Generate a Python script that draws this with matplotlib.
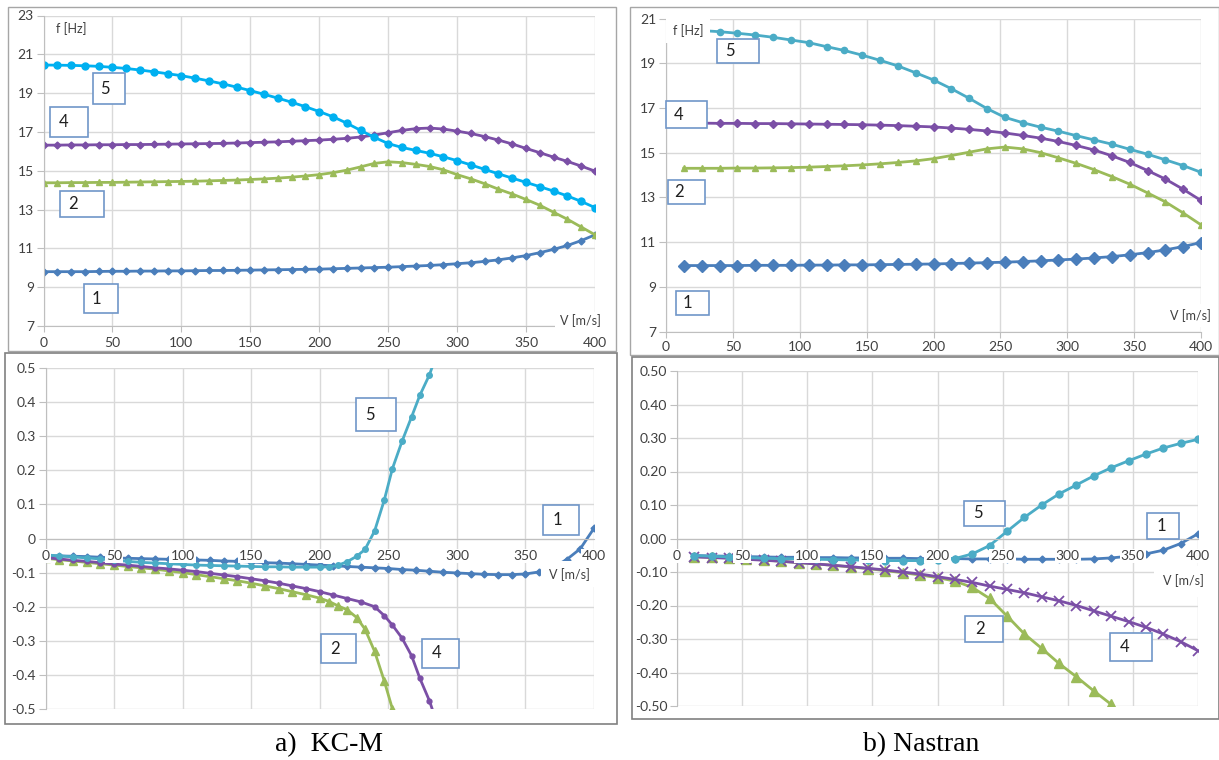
import matplotlib
matplotlib.use('Agg')
import matplotlib.pyplot as plt
from matplotlib.patches import Rectangle
from matplotlib.ticker import FuncFormatter

plt.rcParams['font.family'] = ['Lato', 'DejaVu Sans']
plt.rcParams['axes.unicode_minus'] = False

# ---------------- data ----------------
# speeds (m/s)
V_KCM = list(range(0, 401, 10))
V_NAS = [13.3, 26.7, 40.0, 53.3, 66.7, 80.0, 93.3, 106.7, 120.0, 133.3,
         146.7, 160.0, 173.3, 186.7, 200.0, 213.3, 226.7, 240.0, 253.3, 266.7,
         280.0, 293.3, 306.7, 320.0, 333.3, 346.7, 360.0, 373.3, 386.7, 400.0]

# a) KC-M, frequency f [Hz]
f1_kcm = [9.80, 9.80, 9.80, 9.80, 9.81, 9.82, 9.82, 9.83, 9.83, 9.84, 9.84,
          9.85, 9.86, 9.86, 9.87, 9.88, 9.89, 9.90, 9.91, 9.92, 9.93, 9.95,
          9.97, 9.99, 10.01, 10.03, 10.06, 10.09, 10.12, 10.16, 10.21, 10.26,
          10.33, 10.41, 10.51, 10.63, 10.78, 10.95, 11.15, 11.40, 11.70]
f2_kcm = [14.38, 14.38, 14.39, 14.39, 14.40, 14.40, 14.41, 14.42, 14.43, 14.44,
          14.45, 14.46, 14.48, 14.50, 14.52, 14.55, 14.58, 14.62, 14.67, 14.73,
          14.80, 14.90, 15.03, 15.20, 15.38, 15.46, 15.42, 15.33, 15.22, 15.05,
          14.80, 14.58, 14.33, 14.05, 13.80, 13.52, 13.22, 12.86, 12.50, 12.10,
          11.70]
f4_kcm = [16.32, 16.32, 16.33, 16.33, 16.34, 16.34, 16.35, 16.35, 16.36, 16.37,
          16.38, 16.39, 16.40, 16.41, 16.43, 16.45, 16.47, 16.49, 16.52, 16.55,
          16.58, 16.62, 16.67, 16.74, 16.84, 16.96, 17.08, 17.17, 17.20, 17.15,
          17.04, 16.92, 16.76, 16.58, 16.38, 16.15, 15.93, 15.70, 15.48, 15.24,
          14.98]
f5_kcm = [20.45, 20.44, 20.43, 20.41, 20.38, 20.33, 20.27, 20.19, 20.10, 20.00,
          19.90, 19.77, 19.63, 19.48, 19.31, 19.13, 18.94, 18.74, 18.53, 18.30,
          18.05, 17.78, 17.45, 17.08, 16.72, 16.40, 16.20, 16.05, 15.90, 15.72,
          15.52, 15.30, 15.07, 14.84, 14.62, 14.40, 14.18, 13.95, 13.70, 13.42,
          13.10]

# b) Nastran, frequency f [Hz]
f1_nas = [9.95, 9.95, 9.95, 9.95, 9.96, 9.96, 9.96, 9.97, 9.97, 9.98, 9.98,
          9.99, 10.00, 10.01, 10.02, 10.04, 10.06, 10.08, 10.10, 10.13, 10.16,
          10.20, 10.24, 10.29, 10.35, 10.43, 10.53, 10.65, 10.80, 10.98]
f2_nas = [14.30, 14.30, 14.30, 14.31, 14.31, 14.32, 14.33, 14.35, 14.38, 14.41,
          14.45, 14.50, 14.56, 14.63, 14.73, 14.87, 15.02, 15.17, 15.25, 15.17,
          15.00, 14.77, 14.52, 14.24, 13.93, 13.59, 13.20, 12.80, 12.30, 11.77]
f4_nas = [16.32, 16.32, 16.31, 16.31, 16.30, 16.30, 16.29, 16.28, 16.27, 16.26,
          16.25, 16.23, 16.21, 16.18, 16.15, 16.10, 16.04, 15.97, 15.88, 15.77,
          15.65, 15.50, 15.32, 15.12, 14.86, 14.56, 14.20, 13.82, 13.36, 12.86]
f5_nas = [20.50, 20.46, 20.41, 20.34, 20.26, 20.16, 20.04, 19.92, 19.74, 19.57,
          19.36, 19.13, 18.88, 18.57, 18.25, 17.86, 17.43, 16.97, 16.58, 16.34,
          16.14, 15.96, 15.76, 15.57, 15.38, 15.15, 14.93, 14.68, 14.42, 14.12]

# a) KC-M, damping
g1_kcm = [-0.050, -0.051, -0.052, -0.053, -0.055, -0.057, -0.058, -0.059, -0.060,
          -0.061, -0.062, -0.063, -0.064, -0.066, -0.067, -0.069, -0.071, -0.072,
          -0.074, -0.076, -0.078, -0.080, -0.082, -0.084, -0.086, -0.088, -0.091,
          -0.093, -0.096, -0.099, -0.101, -0.103, -0.105, -0.106, -0.106, -0.104,
          -0.098, -0.085, -0.062, -0.030, 0.030]
v2_kcm_d = list(range(0, 201, 10)) + [207, 213, 220, 227, 233, 240, 247, 253, 260]
g2_kcm = [-0.058, -0.062, -0.066, -0.070, -0.074, -0.078, -0.082, -0.086, -0.090,
          -0.095, -0.100, -0.106, -0.112, -0.118, -0.124, -0.131, -0.139, -0.147,
          -0.156, -0.165, -0.175, -0.185, -0.197, -0.209, -0.232, -0.266, -0.331,
          -0.417, -0.500, -0.600]
v4_kcm_d = list(range(0, 241, 10)) + [247, 253, 260, 267, 273, 280, 287]
g4_kcm = [-0.056, -0.060, -0.064, -0.067, -0.071, -0.075, -0.078, -0.082, -0.086,
          -0.089, -0.093, -0.097, -0.102, -0.107, -0.112, -0.118, -0.124, -0.131,
          -0.139, -0.147, -0.156, -0.166, -0.176, -0.186, -0.200, -0.226, -0.254,
          -0.292, -0.344, -0.410, -0.476, -0.560]
v5_kcm_d = list(range(0, 201, 10)) + [207, 213, 220, 227, 233, 240, 247, 253, 260,
                                       267, 273, 280, 287]
g5_kcm = [-0.048, -0.051, -0.054, -0.057, -0.060, -0.064, -0.067, -0.070, -0.072,
          -0.074, -0.076, -0.078, -0.079, -0.080, -0.081, -0.082, -0.083, -0.083,
          -0.084, -0.084, -0.084, -0.083, -0.079, -0.068, -0.052, -0.032, 0.022,
          0.112, 0.205, 0.285, 0.357, 0.420, 0.480, 0.560]

# b) Nastran, damping
g1_nas = [-0.051, -0.052, -0.053, -0.054, -0.055, -0.056, -0.056, -0.057, -0.057,
          -0.058, -0.058, -0.059, -0.059, -0.060, -0.060, -0.060, -0.061, -0.061,
          -0.061, -0.062, -0.062, -0.062, -0.062, -0.061, -0.058, -0.053, -0.046,
          -0.035, -0.015, 0.014]
g2_nas = [-0.054, -0.056, -0.058, -0.061, -0.064, -0.068, -0.072, -0.076, -0.080,
          -0.085, -0.090, -0.096, -0.102, -0.109, -0.117, -0.127, -0.146, -0.179,
          -0.231, -0.285, -0.328, -0.373, -0.413, -0.455, -0.495]
g4_nas = [-0.055, -0.057, -0.059, -0.062, -0.065, -0.068, -0.072, -0.076, -0.080,
          -0.084, -0.089, -0.094, -0.100, -0.106, -0.114, -0.122, -0.131, -0.142,
          -0.152, -0.162, -0.174, -0.186, -0.200, -0.216, -0.232, -0.248, -0.265,
          -0.285, -0.308, -0.335]
g5_nas = [-0.051, -0.053, -0.055, -0.057, -0.059, -0.060, -0.061, -0.062, -0.063,
          -0.064, -0.065, -0.066, -0.066, -0.066, -0.065, -0.060, -0.046, -0.021,
          0.021, 0.063, 0.100, 0.133, 0.160, 0.187, 0.211, 0.232, 0.252, 0.270,
          0.284, 0.296]

# colours
C1 = '#4A7EBB'
C2 = '#9BBB59'
C4 = '#7B4FA6'
C5A = '#00B0F0'
C5 = '#4BACC6'
GRID = '#D9D9D9'
AXC = '#BFBFBF'
TXT = '#404040'
BOXC = '#7096C8'

W, H = 1219, 760
fig = plt.figure(figsize=(W / 100, H / 100), dpi=100)


def add_ax(l, t, r, b):
    return fig.add_axes([l / W, 1 - b / H, (r - l) / W, (b - t) / H])


def rect(l, t, r, b, fc='white', ec='none', lw=1.0, z=5):
    fig.patches.append(Rectangle((l / W, 1 - b / H), (r - l) / W, (b - t) / H,
                                 transform=fig.transFigure, fc=fc, ec=ec, lw=lw,
                                 zorder=z))


def txt(x, y, s, size=9, ha='center', **kw):
    fig.text(x / W, 1 - y / H, s, ha=ha, va='center', fontsize=size,
             color=kw.pop('color', TXT), zorder=7, **kw)


def num_box(l, t, r, b, s, frac=0.36):
    rect(l, t, r, b, ec=BOXC, lw=1.2)
    txt(l + (r - l) * frac, (t + b) / 2, s, size=12, color='#202020')


def style(ax, xticks, yticks, ylim, fmt, bottom_zero=False, xpad=4):
    ax.set_xlim(0, 400)
    ax.set_ylim(*ylim)
    ax.set_facecolor('none')
    ax.set_axisbelow(False)
    for v in xticks:
        ax.axvline(v, color=GRID, lw=1, zorder=0.5)
    for v in yticks:
        ax.axhline(v, color=GRID, lw=1, zorder=0.5)
    ax.set_xticks(xticks)
    ax.set_yticks(yticks)
    ax.yaxis.set_major_formatter(FuncFormatter(fmt))
    for s in ['top', 'right']:
        ax.spines[s].set_visible(False)
    for s in ['left', 'bottom']:
        ax.spines[s].set_color(AXC)
    ax.tick_params(axis='y', length=5, color=AXC, labelcolor=TXT,
                   labelsize=10, pad=2)
    if bottom_zero:
        ax.spines['bottom'].set_position(('data', 0))
        ax.tick_params(axis='x', length=0, labelcolor=TXT, labelsize=10, pad=xpad)
        for lab in ax.get_xticklabels():
            lab.set_bbox(dict(boxstyle='square,pad=0.08', fc='white', ec='none'))
    else:
        ax.tick_params(axis='x', length=4, color=AXC, labelcolor=TXT,
                       labelsize=10, pad=xpad)


XT = list(range(0, 401, 50))

# ---- top left: KC-M frequencies
ax = add_ax(43.5, 15.5, 595, 326)
style(ax, XT, list(range(7, 24, 2)), (7, 23), lambda v, p: '%d' % v)
ax.plot(V_KCM, f1_kcm, color=C1, lw=2, marker='D', ms=3.5)
ax.plot(V_KCM, f2_kcm, color=C2, lw=2, marker='^', ms=4)
ax.plot(V_KCM, f4_kcm, color=C4, lw=2, marker='D', ms=3.5)
ax.plot(V_KCM, f5_kcm, color=C5A, lw=2, marker='o', ms=5)

# ---- top right: Nastran frequencies
ax = add_ax(666, 18.5, 1201, 331.5)
style(ax, XT, list(range(7, 22, 2)), (7, 21), lambda v, p: '%d' % v, xpad=3)
ax.plot(V_NAS, f1_nas, color=C1, lw=2, marker='D', ms=6)
ax.plot(V_NAS, f2_nas, color=C2, lw=2, marker='^', ms=5)
ax.plot(V_NAS, f4_nas, color=C4, lw=2, marker='D', ms=4.5)
ax.plot(V_NAS, f5_nas, color=C5, lw=2, marker='o', ms=4.5)

# ---- bottom left: KC-M damping
yd = [-0.5, -0.4, -0.3, -0.2, -0.1, 0, 0.1, 0.2, 0.3, 0.4, 0.5]
ax = add_ax(45.5, 368, 594, 709)
style(ax, XT, yd, (-0.5, 0.5),
      lambda v, p: '0' if abs(v) < 1e-9 else '%.1f' % v, bottom_zero=True, xpad=8)
ax.plot(V_KCM, g1_kcm, color=C1, lw=2, marker='D', ms=3.5)
ax.plot(v2_kcm_d, g2_kcm, color=C2, lw=2, marker='^', ms=5.5)
ax.plot(v4_kcm_d, g4_kcm, color=C4, lw=2, marker='o', ms=3.5)
ax.plot(v5_kcm_d, g5_kcm, color=C5, lw=2, marker='o', ms=4)

# ---- bottom right: Nastran damping
ax = add_ax(677, 371, 1198, 706)
style(ax, XT, yd, (-0.5, 0.5), lambda v, p: '%.2f' % v, bottom_zero=True, xpad=8)
ax.plot(V_NAS, g1_nas, color=C1, lw=2, marker='D', ms=3.5)
ax.plot(V_NAS[:len(g2_nas)], g2_nas, color=C2, lw=2, marker='^', ms=7)
ax.plot(V_NAS, g4_nas, color=C4, lw=2, marker='x', ms=7, mew=1.3)
ax.plot(V_NAS, g5_nas, color=C5, lw=2, marker='o', ms=5)

# ---- panel frames
rect(8, 7, 616, 351, fc='none', ec='#A6A6A6', lw=1, z=1)
rect(630, 7, 1218.5, 355, fc='none', ec='#A6A6A6', lw=1, z=1)
rect(5, 353, 617, 724, fc='none', ec='#808080', lw=1.2, z=1)
rect(632, 357, 1218.5, 719, fc='none', ec='#808080', lw=1.2, z=1)

# ---- axis titles with white backgrounds
txt(71, 29, 'f [Hz]')
rect(666, 18, 710, 43)
txt(688, 31, 'f [Hz]')
rect(555, 312, 600, 334)
txt(580, 321, 'V [m/s]')
rect(1168, 304, 1218, 327)
txt(1190, 316, 'V [m/s]')
rect(541, 561, 594, 587)
txt(569, 575, 'V [m/s]')
rect(1154, 566, 1217, 597)
txt(1183, 581, 'V [m/s]')

# ---- curve numbers
num_box(93, 73, 125, 104, '5')
num_box(50, 107, 88, 137, '4')
num_box(60, 191, 104, 217, '2', frac=0.3)
num_box(84, 284, 118, 313, '1')

num_box(717, 39, 759, 63, '5', frac=0.3)
num_box(666, 101, 707, 128, '4', frac=0.3)
num_box(668, 180, 705, 204, '2', frac=0.3)
num_box(676, 291, 709, 315, '1')

num_box(356, 398, 396, 431, '5')
num_box(543, 505, 579, 535, '1', frac=0.4)
num_box(321, 634, 356, 663, '2', frac=0.4)
num_box(422, 639, 459, 668, '4', frac=0.4)

num_box(964, 501, 1005, 526, '5', frac=0.35)
num_box(1147, 513, 1179, 539, '1', frac=0.45)
num_box(965, 616, 1003, 642, '2', frac=0.4)
num_box(1110, 633, 1152, 661, '4', frac=0.35)

# ---- captions
fig.text(329 / W, 1 - 745 / H, 'a)  KC-M', ha='center', va='center',
         fontsize=20, family='Liberation Serif', color='black')
fig.text(921 / W, 1 - 745 / H, 'b) Nastran', ha='center', va='center',
         fontsize=20, family='Liberation Serif', color='black')

fig.savefig('out.png', dpi=100)
